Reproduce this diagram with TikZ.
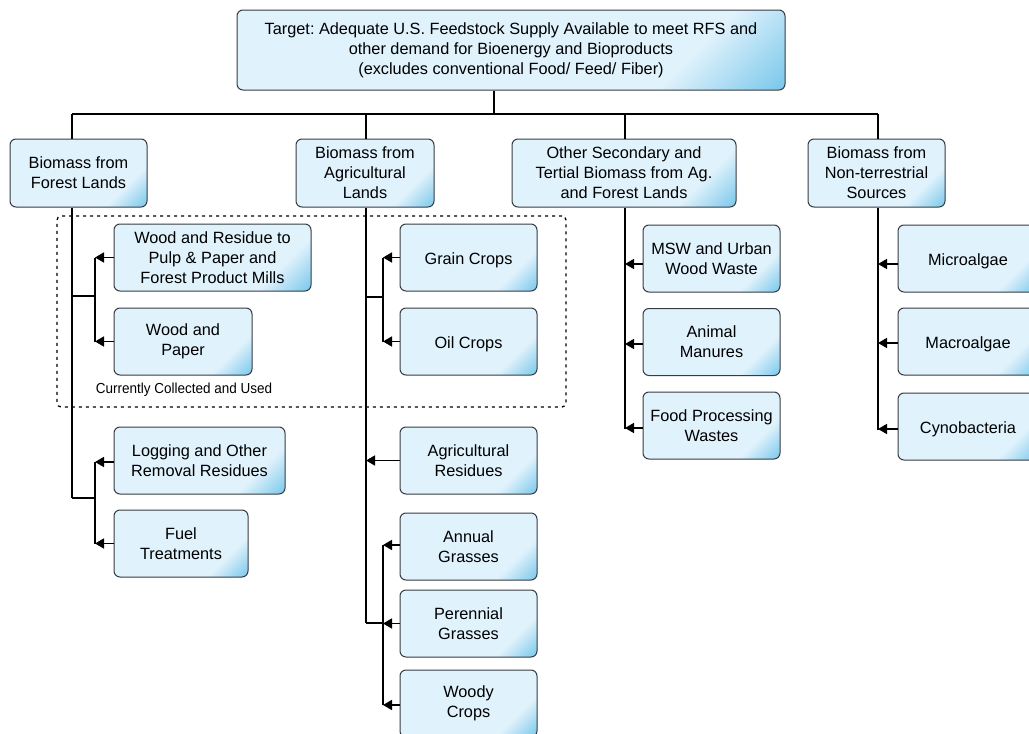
\documentclass[tikz,border=0pt]{standalone}
\usepackage{fontspec}
\setmainfont{Liberation Sans}
\usetikzlibrary{arrows.meta}
\definecolor{lb}{RGB}{224,242,252}
\definecolor{db}{RGB}{80,182,228}
\definecolor{bd}{RGB}{55,60,65}
\pgfdeclarehorizontalshading{boxshade}{100bp}{color(0bp)=(lb); color(71bp)=(lb); color(91bp)=(db); color(100bp)=(db)}
\newcommand{\oneline}[1]{\raisebox{-2.5pt}[\height][\depth]{#1}}
\begin{document}
\frenchspacing
\begin{tikzpicture}[x=1pt,y=-1pt,
  box/.style={draw=bd, line width=1pt, rounded corners=6pt, shade, shading=boxshade, shading angle=-45, align=center, inner sep=0pt, font=\fontsize{16.3}{20}\selectfont},
  conn/.style={line width=1.6pt, black},
  arr/.style={conn, -{Triangle[length=9pt,width=10pt]}},
  grpbox/.style={draw=black, line width=1.3pt, dash pattern=on 3pt off 4pt, rounded corners=4pt, inner sep=0pt}]
\useasboundingbox (0,0) rectangle (1029,734);
\fill[white] (0,0) rectangle (1029,734);

% group box
\node[grpbox, minimum width=509pt, minimum height=191pt] (grp) at (311.5,311.5) {};
\node[font=\fontsize{14.5}{16}\selectfont, inner sep=0pt] (cclabel) at (184,390) {\scalebox{0.93}[1]{Currently Collected and Used}};

% top
\node[box, minimum width=548pt, minimum height=80pt] (target) at (511,50) {Target: Adequate U.S. Feedstock Supply Available to meet RFS and\\other demand for Bioenergy and Bioproducts\\(excludes conventional Food/ Feed/ Fiber)};

% level 1
\node[box, minimum width=137pt, minimum height=68pt] (forest) at (78.5,173) {Biomass from\\Forest Lands};
\node[box, minimum width=138pt, minimum height=68pt] (ag) at (365,173) {Biomass from\\Agricultural\\Lands};
\node[box, minimum width=224pt, minimum height=68pt] (other) at (624,173) {Other Secondary and\\Tertial Biomass from Ag.\\and Forest Lands};
\node[box, minimum width=137pt, minimum height=68pt] (nonterr) at (876.5,173) {Biomass from\\Non-terrestrial\\Sources};

% forest children
\node[box, minimum width=197pt, minimum height=67pt] (wr) at (212.5,257.5) {Wood and Residue to\\Pulp \& Paper and\\Forest Product Mills};
\node[box, minimum width=138pt, minimum height=67pt] (wp) at (183,341.5) {Wood and\\Paper};
\node[box, minimum width=171pt, minimum height=67pt] (log) at (199.5,460.5) {Logging and Other\\Removal Residues};
\node[box, minimum width=134pt, minimum height=67pt] (fuel) at (181,543.5) {Fuel\\Treatments};

% ag children
\node[box, minimum width=137pt, minimum height=67pt] (grain) at (468.5,257.5) {\oneline{Grain Crops}};
\node[box, minimum width=137pt, minimum height=67pt] (oil) at (468.5,341.5) {\oneline{Oil Crops}};
\node[box, minimum width=137pt, minimum height=67pt] (agres) at (468.5,460.5) {Agricultural\\Residues};
\node[box, minimum width=137pt, minimum height=67pt] (annual) at (468.5,546.5) {Annual\\Grasses};
\node[box, minimum width=137pt, minimum height=67pt] (peren) at (468.5,623.5) {Perennial\\Grasses};
\node[box, minimum width=137pt, minimum height=67pt] (woody) at (468.5,703.5) {Woody\\Crops};

% other children
\node[box, minimum width=137pt, minimum height=67pt] (msw) at (711.5,258.5) {MSW and Urban\\Wood Waste};
\node[box, minimum width=137pt, minimum height=67pt] (manure) at (711.5,342) {Animal\\Manures};
\node[box, minimum width=137pt, minimum height=67pt] (food) at (711.5,425.5) {Food Processing\\Wastes};

% nonterrestrial children
\node[box, minimum width=140pt, minimum height=67pt] (micro) at (968,258.5) {\oneline{Microalgae}};
\node[box, minimum width=140pt, minimum height=67pt] (macro) at (968,341.5) {\oneline{Macroalgae}};
\node[box, minimum width=140pt, minimum height=67pt] (cyno) at (968,426.5) {\oneline{Cynobacteria}};

% coordinates for the trunk lines
\coordinate (stem) at (494,114);
\coordinate (fx) at (72,114);
\coordinate (ax) at (366,114);
\coordinate (ox) at (625,114);
\coordinate (nx) at (878,114);
\coordinate (fs) at (95,0);
\coordinate (as) at (383,0);

% top bus
\draw[conn] (target.south -| stem) -- (stem);
\draw[conn] (fx) -- (nx);
\draw[conn] (fx) -- (forest.north -| fx);
\draw[conn] (ax) -- (ag.north -| ax);
\draw[conn] (ox) -- (other.north -| ox);
\draw[conn] (nx) -- (nonterr.north -| nx);

% forest branch
\coordinate (fj1) at (72,296);
\coordinate (fj2) at (72,498);
\draw[conn] (forest.south -| fx) -- (fj2);
\draw[conn] (fj1) -- (fj1 -| fs);
\draw[conn] (fj2) -- (fj2 -| fs);
\draw[conn] (wr.west -| fs) -- (wp.west -| fs);
\draw[conn] ([yshift=-1.5pt]log.west -| fs) -- (fuel.west -| fs);
\draw[arr] (wr.west) -- (wr.west -| fs);
\draw[arr] (wp.west) -- (wp.west -| fs);
\draw[arr] ([yshift=-1.5pt]log.west) -- ([yshift=-1.5pt]log.west -| fs);
\draw[arr] (fuel.west) -- (fuel.west -| fs);

% ag branch
\coordinate (aj1) at (366,297);
\coordinate (aj2) at (366,623);
\draw[conn] (ag.south -| ax) -- (aj2);
\draw[conn] (aj1) -- (aj1 -| as);
\draw[conn] (aj2) -- (aj2 -| as);
\draw[conn] (grain.west -| as) -- (oil.west -| as);
\draw[conn] ([yshift=1.5pt]annual.west -| as) -- ([yshift=-1.5pt]woody.west -| as);
\draw[arr] (grain.west) -- (grain.west -| as);
\draw[arr] (oil.west) -- (oil.west -| as);
\draw[arr] (agres.west) -- (agres.west -| ax);
\draw[arr] ([yshift=1.5pt]annual.west) -- ([yshift=1.5pt]annual.west -| as);
\draw[arr] (peren.west) -- (peren.west -| as);
\draw[arr] ([yshift=-1.5pt]woody.west) -- ([yshift=-1.5pt]woody.west -| as);

% other branch
\draw[conn] (other.south -| ox) -- ([yshift=-3pt]food.west -| ox);
\draw[arr] ([yshift=-5.5pt]msw.west) -- ([yshift=-5.5pt]msw.west -| ox);
\draw[arr] ([yshift=-2pt]manure.west) -- ([yshift=-2pt]manure.west -| ox);
\draw[arr] ([yshift=-2.5pt]food.west) -- ([yshift=-2.5pt]food.west -| ox);

% nonterrestrial branch
\draw[conn] (nonterr.south -| nx) -- ([yshift=-3pt]cyno.west -| nx);
\draw[arr] ([yshift=-5.5pt]micro.west) -- ([yshift=-5.5pt]micro.west -| nx);
\draw[arr] ([yshift=-1.5pt]macro.west) -- ([yshift=-1.5pt]macro.west -| nx);
\draw[arr] ([yshift=-2.5pt]cyno.west) -- ([yshift=-2.5pt]cyno.west -| nx);
\end{tikzpicture}
\end{document}
